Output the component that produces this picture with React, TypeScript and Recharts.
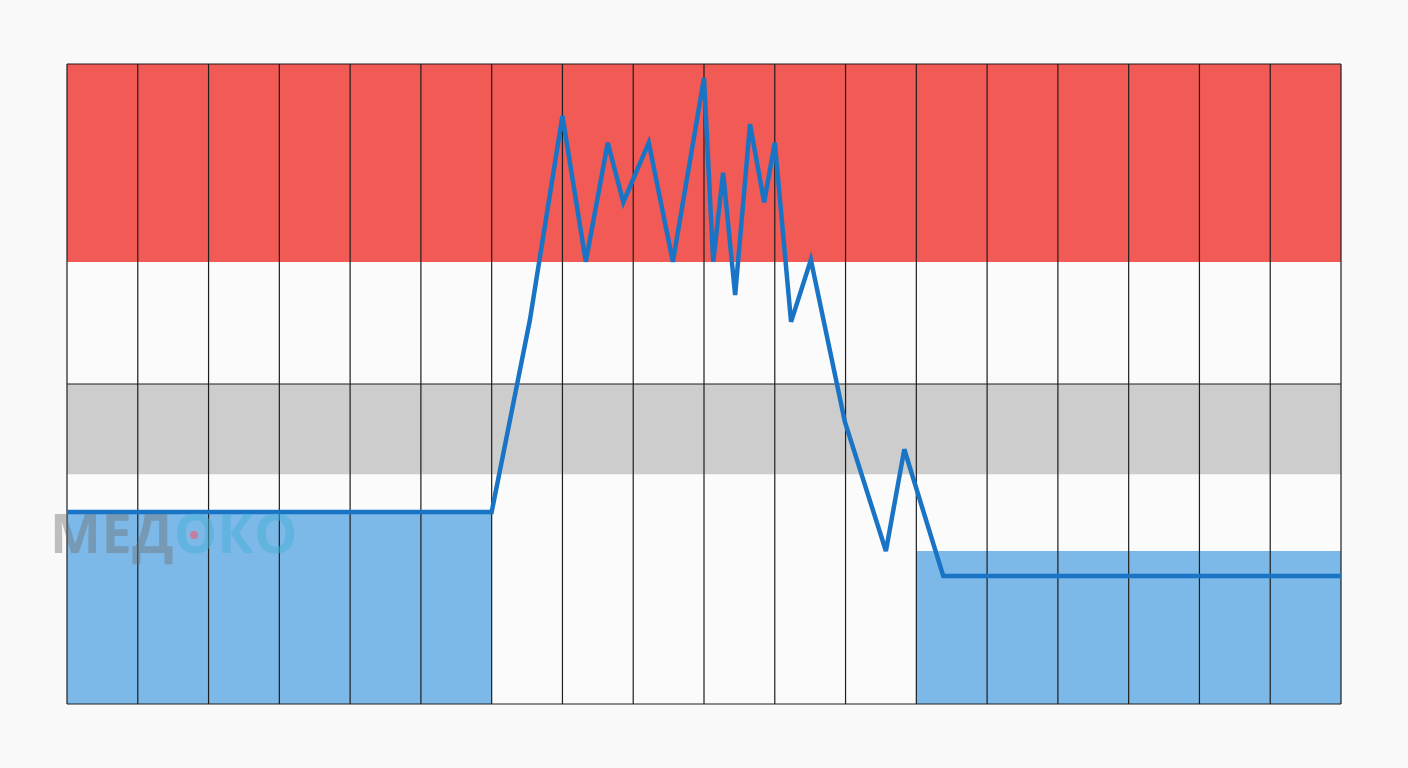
import React from "react";
import {
  ComposedChart,
  Line,
  XAxis,
  YAxis,
  ReferenceArea,
  ReferenceLine,
} from "recharts";

// Column boundaries (18 columns)
const columnTicks = [0, 1, 2, 3, 4, 5, 6, 7, 8, 9, 10, 11, 12, 13, 14, 15, 16, 17, 18];
const rowLines = [0, 50, 100];

// Line series: x position (columns), y value (0..100)
const lineX = [0, 6, 6.54, 7.0, 7.33, 7.64, 7.86, 8.22, 8.56, 9.0, 9.13, 9.27, 9.44, 9.65, 9.85, 10.0, 10.23, 10.51, 10.99, 11.57, 11.83, 12.38, 18];
const lineY = [30, 30, 60, 91.9, 69.1, 87.7, 78.4, 87.7, 69.1, 97.8, 69.1, 83.0, 63.9, 90.6, 78.4, 87.7, 59.7, 69.4, 44.1, 23.9, 39.8, 20, 20];

// Bands
const redBand = [69.06, 100];
const grayBand = [35.9, 50];
const leftBlue = { x: [0, 6], y: [0, 30] };
const rightBlue = { x: [12, 18], y: [0, 23.9] };

const data = lineX.map((x, i) => ({ x, y: lineY[i] }));

export default function App() {
  return (
    <div
      style={{
        position: "fixed",
        left: 0,
        top: 0,
        width: 1408,
        height: 768,
        background: "#f9f9f9",
      }}
    >
      <ComposedChart
        width={1408}
        height={768}
        data={data}
        margin={{ left: 67, top: 64, right: 67, bottom: 64 }}
      >
        <XAxis type="number" dataKey="x" domain={[0, 18]} hide ticks={columnTicks} />
        <YAxis type="number" domain={[0, 100]} hide />
        <ReferenceArea x1={0} x2={18} y1={0} y2={100} fill="#fbfbfb" fillOpacity={1} stroke="none" ifOverflow="visible" />
        <ReferenceArea x1={0} x2={18} y1={redBand[0]} y2={redBand[1]} fill="#f15a55" fillOpacity={1} stroke="none" ifOverflow="visible" />
        <ReferenceArea x1={0} x2={18} y1={grayBand[0]} y2={grayBand[1]} fill="#cdcdcd" fillOpacity={1} stroke="none" ifOverflow="visible" />
        <ReferenceArea x1={leftBlue.x[0]} x2={leftBlue.x[1]} y1={leftBlue.y[0]} y2={leftBlue.y[1]} fill="#7db9e8" fillOpacity={1} stroke="none" ifOverflow="visible" />
        <ReferenceArea x1={rightBlue.x[0]} x2={rightBlue.x[1]} y1={rightBlue.y[0]} y2={rightBlue.y[1]} fill="#7db9e8" fillOpacity={1} stroke="none" ifOverflow="visible" />
        {columnTicks.map((t) => (
          <ReferenceLine key={"v" + t} x={t} stroke="#1e1e1e" strokeWidth={1.2} ifOverflow="visible" />
        ))}
        {rowLines.map((t) => (
          <ReferenceLine key={"h" + t} y={t} stroke="#1e1e1e" strokeWidth={1.2} ifOverflow="visible" />
        ))}
        <Line
          type="linear"
          dataKey="y"
          stroke="#1a74c6"
          strokeWidth={4.5}
          dot={false}
          isAnimationActive={false}
          strokeLinejoin="miter"
        />
      </ComposedChart>
      <div
        style={{
          position: "absolute",
          left: 50,
          top: 500,
          fontFamily: "'Open Sans', 'DejaVu Sans', sans-serif",
          fontWeight: 700,
          fontSize: 54,
          lineHeight: "64px",
          letterSpacing: 0.5,
          pointerEvents: "none",
          whiteSpace: "nowrap",
        }}
      >
        <span style={{ color: "rgba(110,110,110,0.42)" }}>МЕД</span>
        <span style={{ color: "rgba(70,175,215,0.5)" }}>ОКО</span>
      </div>
      <div
        style={{
          position: "absolute",
          left: 190,
          top: 531,
          width: 8,
          height: 8,
          borderRadius: 4,
          background: "rgba(230,100,130,0.7)",
        }}
      />
    </div>
  );
}
